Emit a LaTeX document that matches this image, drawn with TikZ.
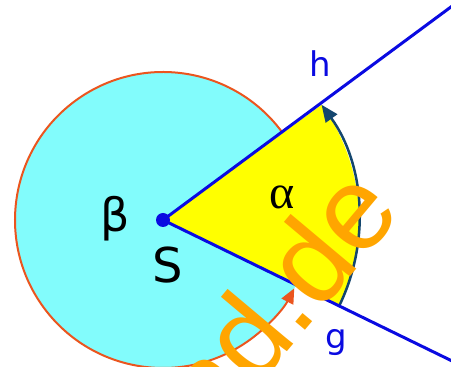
\documentclass[tikz,border=0pt]{standalone}
\usepackage{fontspec}
\setmainfont{DejaVu Sans}
\newfontfamily\wmfont{Liberation Sans}
\newfontfamily\alphafont{Liberation Serif}
\usetikzlibrary{arrows.meta,calc}
\definecolor{cyanfill}{RGB}{130,252,252}
\definecolor{yellowfill}{RGB}{255,255,0}
\definecolor{arcteal}{RGB}{20,70,110}
\definecolor{arcorange}{RGB}{235,85,30}
\definecolor{rayblue}{RGB}{10,10,225}
\definecolor{wmorange}{RGB}{255,165,0}
\tikzset{
  ray/.style={draw=rayblue, line width=3pt},
  lbl/.style={inner sep=0pt, anchor=base},
  wm/.style={text=wmorange, font=\wmfont\fontsize{118}{118}\selectfont, inner sep=0pt, anchor=base west, rotate=50}
}
\begin{document}
\begin{tikzpicture}[x=1pt,y=1pt]
\useasboundingbox (0,0) rectangle (451,367);
\clip (0,0) rectangle (451,367);
\coordinate (S) at (163,147);
\coordinate (hend) at ($(S)+(36.5:420)$);
\coordinate (gend) at ($(S)+(-26:420)$);
% reflex angle disc
\fill[cyanfill] (S) circle (148);
% alpha sector
\fill[yellowfill] (S) -- ($(S)+(-26:196)$) arc[start angle=-26,end angle=36,radius=196] -- cycle;
\draw[arcteal, line width=2.5pt, -{Triangle[length=17pt,width=14pt]}] ($(S)+(-26:196)$) arc[start angle=-26,end angle=36,radius=196];
\draw[arcorange, line width=2pt, -{Triangle[length=15pt,width=13pt]}] ($(S)+(36.5:148)$) arc[start angle=36.5,end angle=332.5,radius=148];
% rays
\draw[ray] (S) -- (hend);
\draw[ray] (S) -- (gend);
\node[circle, fill=rayblue, inner sep=0pt, minimum size=14pt] (Sdot) at (S) {};
% labels
\node[lbl, text=rayblue, font=\fontsize{34}{34}\selectfont] (h) at (320,290) {h};
\node[lbl, text=rayblue, font=\fontsize{34}{34}\selectfont] (g) at (336,18) {g};
\node[lbl, font=\alphafont\fontsize{48}{48}\selectfont] (alpha) at (282,158) {α};
\node[lbl, font=\fontsize{46}{46}\selectfont] (beta) at (115,135) {β};
\node[lbl, font=\fontsize{48}{48}\selectfont] (Slbl) at (167.5,84) {S};
% watermark
\node[wm] (wmark) at (214,-72) {nd.de};
\end{tikzpicture}
\end{document}
